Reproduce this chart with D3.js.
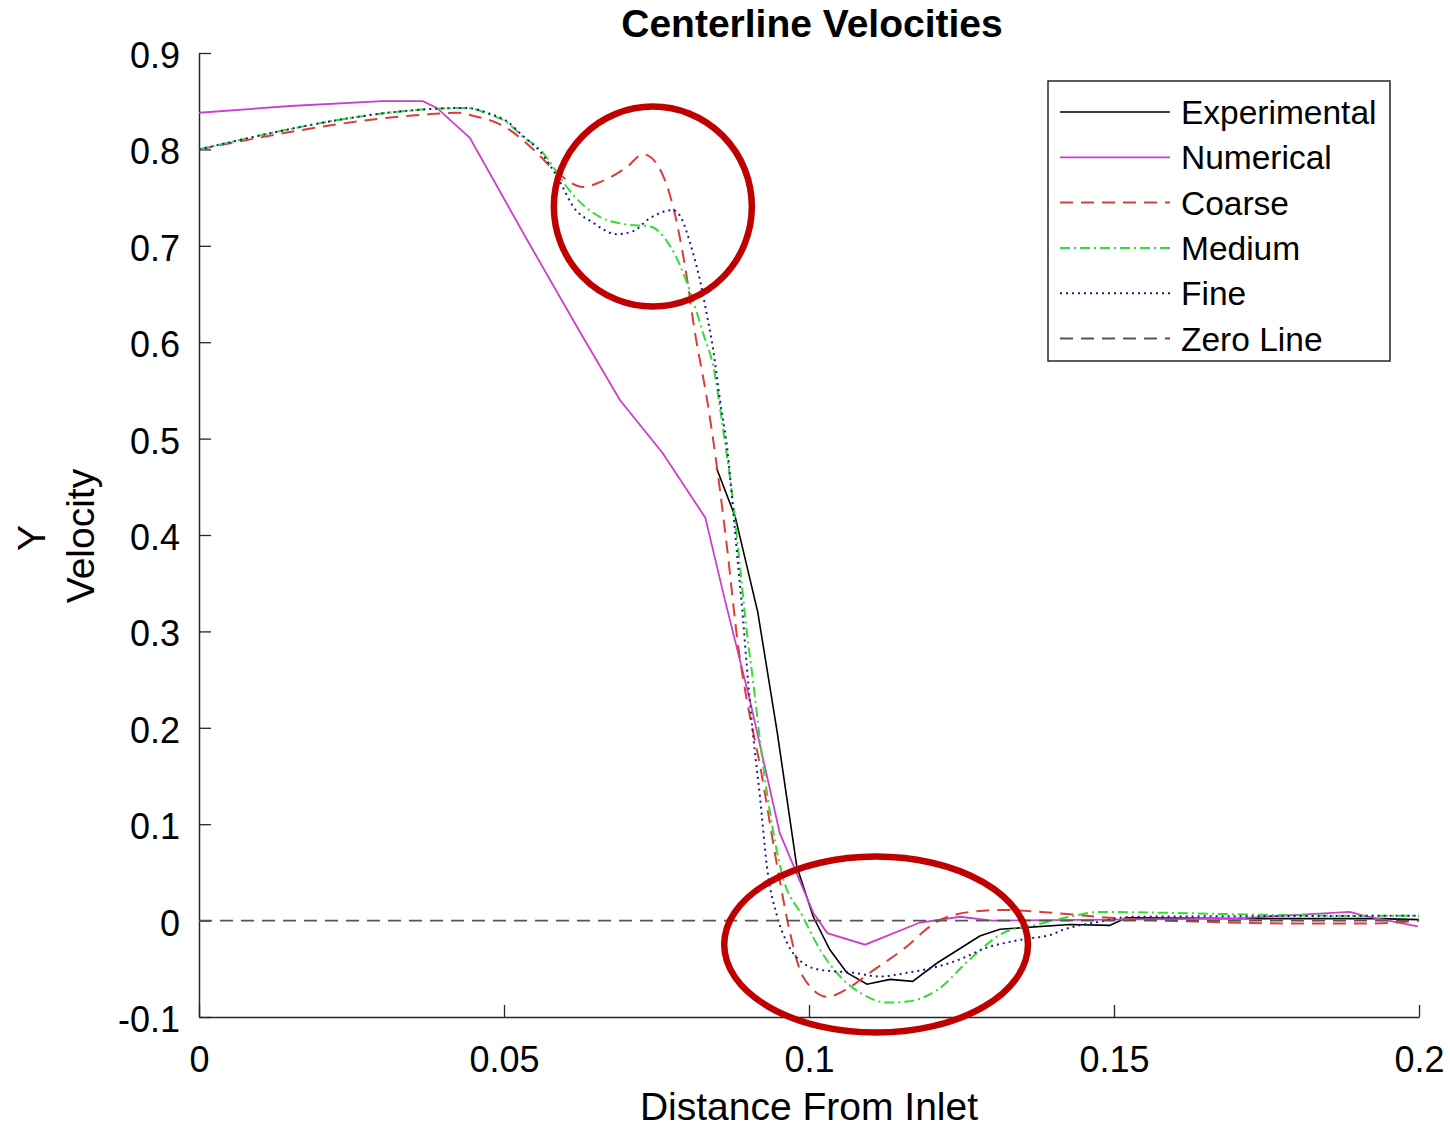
<!DOCTYPE html>
<html>
<head>
  <meta charset="utf-8">
  <title>Centerline Velocities</title>
  <script src="https://d3js.org/d3.v7.min.js"></script>
  <style>
    html, body { margin: 0; background: #fff; overflow: hidden; }
    text { font-family: "Liberation Sans", Arial, sans-serif; fill: #000; }
  </style>
</head>
<body>
  <div id="chart"></div>
  <script>
    // values
    const experimentalX = [0.0848, 0.0879, 0.0916, 0.0948, 0.098, 0.1007, 0.1034, 0.1062, 0.1095, 0.1133, 0.117, 0.121, 0.128, 0.1313, 0.1428, 0.1493, 0.152, 0.172, 0.1936, 0.2];
    const experimentalY = [0.47, 0.419, 0.32, 0.195, 0.056, 0.004, -0.03, -0.054, -0.066, -0.061, -0.063, -0.044, -0.016, -0.009, -0.004, -0.005, 0.003, 0.002, 0.002, 0.001];

    const numericalX = [0, 0.015, 0.03, 0.0367, 0.039, 0.0416, 0.0444, 0.0538, 0.0625, 0.069, 0.076, 0.083, 0.0862, 0.0903, 0.0952, 0.1007, 0.103, 0.1092, 0.1182, 0.1248, 0.13, 0.15, 0.17, 0.18, 0.1887, 0.191, 0.1998];
    const numericalY = [0.838, 0.845, 0.85, 0.85, 0.843, 0.828, 0.812, 0.706, 0.61, 0.54, 0.485, 0.418, 0.333, 0.229, 0.091, 0.008, -0.013, -0.025, -0.002, 0.004, 0.0, 0.001, 0.002, 0.006, 0.009, 0.005, -0.006];

    const coarseX = [0, 0.0367, 0.0423, 0.0449, 0.0505, 0.0548, 0.0587, 0.063, 0.0657, 0.0702, 0.0728, 0.0748, 0.0777, 0.0797, 0.0813, 0.0833, 0.0849, 0.0866, 0.0884, 0.0898, 0.092, 0.0948, 0.0969, 0.099, 0.103, 0.1062, 0.11, 0.1154, 0.121, 0.1264, 0.1318, 0.14, 0.1493, 0.164, 0.1805, 0.1915, 0.2];
    const coarseY = [0.8, 0.836, 0.838, 0.835, 0.822, 0.8, 0.776, 0.761, 0.766, 0.782, 0.795, 0.787, 0.741, 0.678, 0.61, 0.54, 0.471, 0.385, 0.284, 0.229, 0.16, 0.056, -0.013, -0.058, -0.079, -0.071, -0.054, -0.03, -0.001, 0.009, 0.011, 0.008, 0.003, -0.001, -0.003, -0.003, 0.0];

    const mediumX = [0, 0.0438, 0.0477, 0.0505, 0.0531, 0.0559, 0.0587, 0.0603, 0.0657, 0.0702, 0.074, 0.0761, 0.0784, 0.0808, 0.0826, 0.0843, 0.086, 0.0875, 0.0887, 0.0898, 0.0908, 0.0925, 0.0955, 0.099, 0.1018, 0.1051, 0.1084, 0.1128, 0.1161, 0.121, 0.1264, 0.1318, 0.1374, 0.1428, 0.1477, 0.159, 0.175, 0.1915, 0.2];
    const mediumY = [0.8, 0.843, 0.836, 0.828, 0.813, 0.8, 0.776, 0.761, 0.73, 0.722, 0.72, 0.71, 0.686, 0.647, 0.61, 0.575, 0.506, 0.437, 0.367, 0.3, 0.25, 0.16, 0.05, 0.004, -0.03, -0.058, -0.075, -0.085, -0.084, -0.072, -0.04, -0.013, -0.004, 0.004, 0.009, 0.008, 0.006, 0.005, 0.005];

    const fineX = [0, 0.0438, 0.0477, 0.0505, 0.0531, 0.0559, 0.0592, 0.0613, 0.0646, 0.0685, 0.0711, 0.074, 0.0777, 0.0792, 0.0805, 0.0821, 0.0833, 0.0843, 0.0854, 0.0866, 0.0875, 0.0884, 0.0892, 0.0898, 0.0908, 0.092, 0.0931, 0.0948, 0.0964, 0.099, 0.1018, 0.1072, 0.1116, 0.1161, 0.1203, 0.1248, 0.1292, 0.1346, 0.14, 0.1411, 0.1477, 0.1531, 0.2];
    const fineY = [0.8, 0.843, 0.837, 0.829, 0.814, 0.798, 0.766, 0.741, 0.724, 0.712, 0.715, 0.729, 0.737, 0.727, 0.703, 0.665, 0.627, 0.592, 0.54, 0.489, 0.43, 0.367, 0.312, 0.264, 0.195, 0.126, 0.056, 0.004, -0.023, -0.044, -0.051, -0.054, -0.058, -0.054, -0.049, -0.04, -0.028, -0.02, -0.014, -0.011, -0.001, 0.004, 0.005];

    const zeroX = [0, 0.2];
    const zeroY = [0, 0];

    const seriesNames = ['Experimental', 'Numerical', 'Coarse', 'Medium', 'Fine', 'Zero Line'];
    const xTicks = [0, 0.05, 0.1, 0.15, 0.2];
    const yTicks = [-0.1, 0, 0.1, 0.2, 0.3, 0.4, 0.5, 0.6, 0.7, 0.8, 0.9];

    // red annotation ellipses, in data units: cx, cy, rx, ry
    const marks = [
      [0.0744, 0.7407, 0.01623, 0.1037],
      [0.111, -0.0249, 0.0249, 0.0913]
    ];

    const W = 1450, H = 1127;
    const mLeft = 199, mRight = 1419, mTop = 53, mBottom = 1017;

    const x = d3.scaleLinear().domain([0, 0.2]).range([mLeft, mRight]);
    const y = d3.scaleLinear().domain([-0.1, 0.9]).range([mBottom, mTop]);

    const svg = d3.select('#chart').append('svg')
      .attr('width', W).attr('height', H);

    const fmt = d => String(+d.toFixed(2));

    // axes (box off, ticks pointing in)
    const gx = svg.append('g')
      .attr('transform', `translate(0,${mBottom})`)
      .call(d3.axisBottom(x).tickValues(xTicks).tickFormat(fmt)
        .tickSize(-12).tickSizeOuter(0).tickPadding(29));
    const gy = svg.append('g')
      .attr('transform', `translate(${mLeft},0)`)
      .call(d3.axisLeft(y).tickValues(yTicks).tickFormat(fmt)
        .tickSize(-12).tickSizeOuter(0).tickPadding(19));

    [gx, gy].forEach(g => {
      g.select('.domain').attr('stroke', '#262626').attr('stroke-width', 1.5);
      g.selectAll('.tick line').attr('stroke', '#262626').attr('stroke-width', 1.3);
      g.selectAll('.tick text')
        .attr('font-family', '"Liberation Sans", Arial, sans-serif')
        .attr('font-size', 36).attr('fill', '#262626');
    });
    gy.selectAll('.tick text').attr('dy', '0.4em');

    // series
    const series = [
      { name: seriesNames[0], xs: experimentalX, ys: experimentalY, color: '#000000', width: 1.6, dash: null, curve: d3.curveLinear },
      { name: seriesNames[1], xs: numericalX, ys: numericalY, color: '#cc3fcc', width: 1.8, dash: null, curve: d3.curveLinear },
      { name: seriesNames[2], xs: coarseX, ys: coarseY, color: '#dc3c3c', width: 2, dash: '13,8', curve: d3.curveMonotoneX },
      { name: seriesNames[3], xs: mediumX, ys: mediumY, color: '#33dd33', width: 2, dash: '10,4,2,4', curve: d3.curveMonotoneX },
      { name: seriesNames[4], xs: fineX, ys: fineY, color: '#1c1c8c', width: 2, dash: '2,4', curve: d3.curveMonotoneX },
      { name: seriesNames[5], xs: zeroX, ys: zeroY, color: '#555555', width: 1.8, dash: '13,8', curve: d3.curveLinear }
    ];

    const plot = svg.append('g');
    series.forEach(s => {
      const pts = s.xs.map((v, i) => [v, s.ys[i]]);
      const line = d3.line().x(d => x(d[0])).y(d => y(d[1])).curve(s.curve);
      plot.append('path')
        .datum(pts)
        .attr('d', line)
        .attr('fill', 'none')
        .attr('stroke', s.color)
        .attr('stroke-width', s.width)
        .attr('stroke-dasharray', s.dash);
    });

    // title
    svg.append('text')
      .attr('x', 812).attr('y', 37)
      .attr('text-anchor', 'middle')
      .attr('font-size', 39).attr('font-weight', 'bold')
      .text('Centerline Velocities');

    // axis labels
    svg.append('text')
      .attr('x', (mLeft + mRight) / 2).attr('y', 1120)
      .attr('text-anchor', 'middle')
      .attr('font-size', 39).attr('fill', '#262626')
      .text('Distance From Inlet');

    svg.append('text')
      .attr('transform', 'translate(45,538) rotate(-90)')
      .attr('text-anchor', 'middle')
      .attr('font-size', 39).attr('fill', '#262626')
      .text('Y');
    svg.append('text')
      .attr('transform', 'translate(94,536) rotate(-90)')
      .attr('text-anchor', 'middle')
      .attr('font-size', 39).attr('fill', '#262626')
      .text('Velocity');

    // legend
    const lg = svg.append('g').attr('transform', 'translate(1048,81)');
    lg.append('rect')
      .attr('width', 342).attr('height', 280)
      .attr('fill', '#fff').attr('stroke', '#262626').attr('stroke-width', 1.5);
    series.forEach((s, i) => {
      const cy = 31 + i * 45.3;
      lg.append('line')
        .attr('x1', 12).attr('x2', 122).attr('y1', cy).attr('y2', cy)
        .attr('stroke', s.color).attr('stroke-width', s.width)
        .attr('stroke-dasharray', s.dash);
      lg.append('text')
        .attr('x', 133).attr('y', cy + 12)
        .attr('font-size', 33.5)
        .text(s.name);
    });

    // red annotation ellipses
    svg.append('g').selectAll('ellipse')
      .data(marks)
      .enter().append('ellipse')
      .attr('cx', d => x(d[0]))
      .attr('cy', d => y(d[1]))
      .attr('rx', d => x(d[2]) - x(0))
      .attr('ry', d => y(0) - y(d[3]))
      .attr('fill', 'none')
      .attr('stroke', '#c00000')
      .attr('stroke-width', 6.5);
  </script>
</body>
</html>
